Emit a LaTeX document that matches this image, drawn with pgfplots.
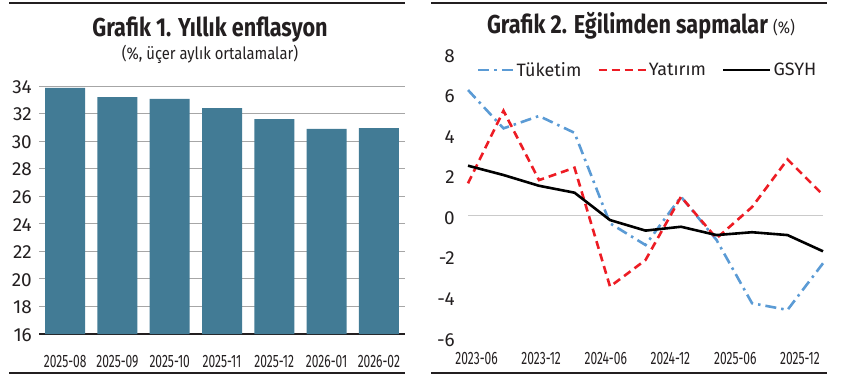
\documentclass[border=0pt]{standalone}
\usepackage{fontspec}
\setmainfont{Fira Sans}
\newfontfamily\titlefont{Fira Sans}[FakeStretch=0.835]
\newfontfamily\subfont{Fira Sans}[FakeStretch=0.875]
\newfontfamily\condfont{Fira Sans}[FakeStretch=0.67]
\usepackage{pgfplots}
\pgfplotsset{compat=1.18}
\pgfplotsset{
  leg35/.style={legend image code/.code={\draw[##1] (0bp,0bp) -- (35bp,0bp);}},
  leg47/.style={legend image code/.code={\draw[##1] (0bp,0bp) -- (47bp,0bp);}}
}
\definecolor{barc}{RGB}{66,123,149}
\definecolor{tuk}{RGB}{91,155,213}
\definecolor{yat}{RGB}{237,28,36}
\definecolor{txt}{RGB}{35,31,32}
\definecolor{grd}{RGB}{166,166,166}
\begin{document}
\begin{tikzpicture}[x=1bp,y=1bp]
\path[use as bounding box] (0,0) rectangle (845,382);
\draw[txt, line width=1.3bp] (9,379) -- (405,379);
\draw[txt, line width=1.3bp] (431,379) -- (827,379);
\draw[txt, line width=1.3bp] (9,9) -- (405,9);
\draw[txt, line width=1.3bp] (431,9) -- (827,9);
\node[anchor=base, text=txt, inner sep=0pt, font=\titlefont\bfseries\fontsize{26}{30}\selectfont] at (210,346) {Grafik 1. Yıllık enflasyon};
\node[anchor=base, text=txt, inner sep=0pt, font=\subfont\fontsize{17}{20}\selectfont] at (210,322.7) {(\%, üçer aylık ortalamalar)};
\node[anchor=base, text=txt, inner sep=0pt] at (641,348.7) {\titlefont\bfseries\fontsize{26}{30}\selectfont Grafik 2. Eğilimden sapmalar \subfont\mdseries\fontsize{17}{20}\selectfont(\%)};

\begin{axis}[at={(39bp,48bp)}, anchor=south west, scale only axis,
  width=366bp, height=248bp,
  xmin=-0.5, xmax=6.5, ymin=16, ymax=34,
  ybar, bar width=40bp,
  xtick={0,...,6},
  xticklabels={2025-08,2025-09,2025-10,2025-11,2025-12,2026-01,2026-02},
  ytick={16,18,...,34},
  yticklabels={16,18,20,22,24,26,28,30,32,34},
  separate axis lines,
  axis x line*=bottom, axis y line*=left,
  y axis line style={draw=none},
  x axis line style={txt, line width=1.2bp, -},
  tick style={draw=none},
  ymajorgrids, grid style={grd, line width=0.9bp},
  yticklabel style={anchor=east, inner sep=0pt, xshift=-7bp, yshift=-1bp, text=txt, font=\fontsize{19}{22}\selectfont},
  xticklabel style={anchor=center, inner sep=0pt, yshift=-23bp, text=txt, font=\condfont\fontsize{18}{20}\selectfont},
  clip=true]
\addplot[fill=barc, draw=none] coordinates {(0,33.86) (1,33.2) (2,33.06) (3,32.4) (4,31.6) (5,30.88) (6,30.95)};
\end{axis}

\begin{axis}[at={(468bp,45.3bp)}, anchor=south west, scale only axis,
  width=355bp, height=284bp,
  xmin=0, xmax=10, ymin=-6, ymax=8,
  xtick={0.24,2.06,3.88,5.70,7.53,9.35},
  xticklabels={2023-06,2023-12,2024-06,2024-12,2025-06,2025-12},
  ytick={-6,-4,...,8},
  yticklabels={-6,-4,-2,0,2,4,6,8},
  extra y ticks={0}, extra y tick labels={},
  extra y tick style={ymajorgrids=true, major grid style={grd!60, line width=0.9bp}},
  axis line style={draw=none},
  tick style={draw=none},
  yticklabel style={anchor=east, inner sep=0pt, xshift=-13bp, yshift=-3bp, text=txt, font=\fontsize{19}{22}\selectfont},
  xticklabel style={anchor=center, inner sep=0pt, yshift=-22.3bp, text=txt, font=\condfont\fontsize{18}{20}\selectfont},
  legend columns=3,
  legend style={at={(0.025,0.939)}, anchor=west, draw=none, fill=none, inner sep=0pt,
    font=\fontsize{18}{20}\selectfont, text=txt,
    /tikz/every even column/.append style={column sep=14bp}},
  clip=false]
\addplot[tuk, line width=2.6bp, dash pattern=on 11bp off 5bp on 2.5bp off 5bp, leg35]
  coordinates {(0,6.16) (1,4.27) (2,4.88) (3,4.05) (4,-0.41) (5,-1.48) (6,0.9) (7,-1.23) (8,-4.35) (9,-4.68) (10,-2.38)};
\addlegendentry{Tüketim}
\addplot[yat, line width=2.6bp, dash pattern=on 8bp off 5bp, leg47]
  coordinates {(0,1.56) (1,5.14) (2,1.72) (3,2.33) (4,-3.53) (5,-2.22) (6,0.9) (7,-1.15) (8,0.39) (9,2.74) (10,0.99)};
\addlegendentry{Yatırım}
\addplot[black, line width=2.6bp, leg47]
  coordinates {(0,2.43) (1,1.97) (2,1.44) (3,1.1) (4,-0.25) (5,-0.77) (6,-0.58) (7,-0.99) (8,-0.85) (9,-0.99) (10,-1.79)};
\addlegendentry{GSYH}
\end{axis}
\end{tikzpicture}
\end{document}
